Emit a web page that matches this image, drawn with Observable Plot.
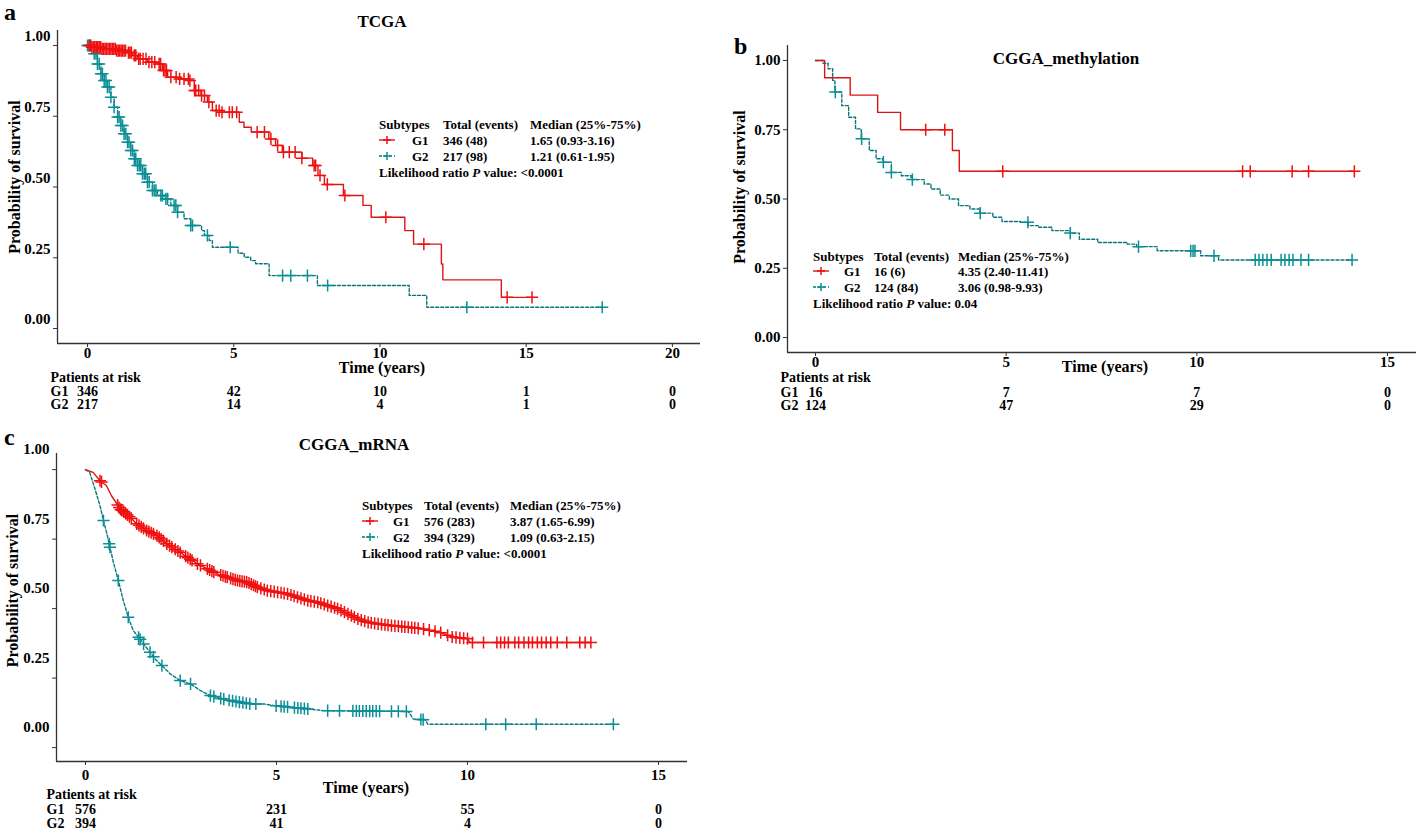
<!DOCTYPE html>
<html><head><meta charset="utf-8">
<script src="https://cdn.jsdelivr.net/npm/d3@7"></script>
<script src="https://cdn.jsdelivr.net/npm/@observablehq/plot@0.6"></script>
<style>
body{margin:0;background:#fff;}
#root{position:relative;width:1416px;height:829px;overflow:hidden;font-family:"Liberation Serif","Times New Roman",serif;font-weight:bold;color:#000;background:#fff;}
.panel{position:absolute;}
.t{position:absolute;white-space:nowrap;transform:translateY(-50%);font-size:13px;line-height:1;}
.sym{position:absolute;transform:translateY(-50%);}
</style></head><body><div id="root"></div>
<script>
// ---------------- DATA ----------------
const yTicks = [0, 0.25, 0.5, 0.75, 1];
const groups = ["G1", "G2"];

// Panel a: TCGA
const aG1Time = [0,0.15,0.5,1.0,1.35,1.55,1.7,2.05,2.4,2.56,2.74,3.1,3.48,3.65,3.88,4.1,4.27,4.6,5.19,5.35,5.6,6.2,6.43,6.66,7.33,7.7,7.88,8.1,8.75,9.42,9.7,10.85,11.15,12.1,12.15,14.15,15.2];
const aG1Surv = [1.0,0.994,0.988,0.982,0.975,0.965,0.953,0.941,0.935,0.912,0.888,0.882,0.876,0.841,0.823,0.80,0.77,0.764,0.729,0.711,0.694,0.67,0.647,0.623,0.602,0.576,0.541,0.509,0.47,0.435,0.393,0.346,0.298,0.228,0.172,0.11,0.11];
const aG1Cens = [0.05,0.1,0.15,0.2,0.25,0.3,0.35,0.4,0.45,0.5,0.55,0.6,0.65,0.7,0.75,0.8,0.85,0.9,0.95,1.0,1.05,1.1,1.15,1.2,1.25,1.3,1.4,1.45,1.5,1.6,1.65,1.75,1.8,1.9,2.0,2.1,2.2,2.3,2.45,2.5,2.6,2.65,2.7,2.85,3.03,3.15,3.3,3.45,3.5,3.66,3.7,3.8,3.9,4.0,4.15,4.4,4.5,4.6,4.85,4.95,5.1,5.8,6.05,6.27,6.5,6.7,6.9,7.1,7.33,7.75,7.8,7.95,8.2,8.8,10.2,11.5,14.35,15.2];
const aG2Time = [0,0.12,0.23,0.34,0.46,0.57,0.68,0.8,0.91,1.03,1.14,1.25,1.37,1.48,1.6,1.71,1.88,2.05,2.22,2.39,2.62,2.85,3.08,3.3,3.53,3.9,4.0,4.16,4.27,5.15,5.36,5.58,5.75,6.21,7.86,11.0,11.6,17.6];
const aG2Surv = [1.0,0.985,0.971,0.935,0.90,0.876,0.853,0.817,0.782,0.747,0.717,0.688,0.658,0.629,0.60,0.576,0.547,0.517,0.488,0.47,0.458,0.435,0.411,0.388,0.364,0.346,0.329,0.311,0.287,0.266,0.252,0.24,0.229,0.187,0.152,0.117,0.075,0.075];
const aG2Cens = [0.0,0.06,0.11,0.23,0.29,0.34,0.4,0.46,0.51,0.57,0.63,0.68,0.74,0.8,0.91,1.03,1.08,1.14,1.2,1.25,1.31,1.37,1.42,1.48,1.54,1.6,1.65,1.71,1.77,1.82,1.88,1.94,1.99,2.05,2.11,2.22,2.28,2.34,2.51,2.56,2.68,2.74,2.96,3.02,3.08,3.53,3.59,4.1,4.88,6.67,6.95,7.52,8.21,12.97,17.6];
const aRiskTimes = [0, 5, 10, 15, 20];
const aRiskG1 = [346, 42, 10, 1, 0];
const aRiskG2 = [217, 14, 4, 1, 0];
const aXTicks = [0, 5, 10, 15, 20];
const aTotals = ["346 (48)", "217 (98)"];
const aMedians = ["1.65 (0.93-3.16)", "1.21 (0.61-1.95)"];
const aP = "<0.0001";

// Panel b: CGGA_methylation
const bG1Time = [0,0.24,0.91,1.63,2.23,3.59,3.77,14.13];
const bG1Surv = [1.0,0.9375,0.875,0.8125,0.75,0.675,0.6,0.6];
const bG1Cens = [2.89,3.39,4.91,11.2,11.4,12.5,12.93,14.13];
const bG2Time = [0,0.2,0.33,0.45,0.51,0.69,0.87,1.05,1.2,1.41,1.59,1.77,1.99,2.25,2.51,2.85,3.03,3.27,3.51,3.75,4.05,4.31,4.65,4.89,5.37,5.58,5.84,6.2,6.68,6.92,7.4,8.18,8.42,8.96,10.1,10.57,14.08];
const bG2Surv = [1.0,0.99,0.97,0.928,0.886,0.837,0.795,0.753,0.717,0.675,0.645,0.633,0.596,0.584,0.57,0.554,0.536,0.514,0.5,0.476,0.464,0.449,0.434,0.419,0.416,0.404,0.398,0.386,0.377,0.355,0.343,0.337,0.328,0.313,0.295,0.28,0.28];
const bG2Cens = [0.52,1.21,1.78,1.99,2.54,4.32,5.57,6.68,8.47,9.84,9.9,9.95,10.45,11.53,11.63,11.73,11.84,11.95,12.21,12.31,12.42,12.52,12.73,12.93,14.07];
const bRiskTimes = [0, 5, 10, 15];
const bRiskG1 = [16, 7, 7, 0];
const bRiskG2 = [124, 47, 29, 0];
const bXTicks = [0, 5, 10, 15];
const bTotals = ["16 (6)", "124 (84)"];
const bMedians = ["4.35 (2.40-11.41)", "3.06 (0.98-9.93)"];
const bP = "0.04";

// Panel c: CGGA_mRNA
const cG1Time = [0,0.2,0.38,0.55,0.68,0.82,0.9,1.12,1.34,1.6,1.87,2.13,2.4,2.66,2.93,3.19,3.45,3.71,3.98,4.24,4.5,4.76,5.03,5.29,5.55,5.82,6.08,6.34,6.61,6.87,7.13,7.39,7.66,8.01,8.45,8.78,9.25,9.6,10.0,10.07,13.23];
const cG1Surv = [1.0,0.99,0.96,0.942,0.906,0.877,0.859,0.835,0.805,0.781,0.763,0.733,0.709,0.685,0.661,0.643,0.625,0.613,0.601,0.595,0.577,0.565,0.559,0.553,0.541,0.529,0.523,0.511,0.499,0.481,0.463,0.451,0.445,0.439,0.433,0.428,0.416,0.398,0.392,0.378,0.378];
const cG1Cens = [0.38,0.42,0.84,0.88,0.92,0.95,1.0,1.05,1.1,1.15,1.2,1.34,1.4,1.46,1.52,1.6,1.66,1.72,1.78,1.87,1.93,1.98,2.04,2.13,2.2,2.26,2.35,2.42,2.48,2.62,2.68,2.74,2.79,2.93,3.01,3.19,3.25,3.31,3.36,3.54,3.6,3.66,3.71,3.8,3.86,3.92,3.98,4.04,4.1,4.16,4.22,4.28,4.34,4.4,4.45,4.5,4.59,4.68,4.76,4.85,4.94,5.03,5.12,5.2,5.29,5.38,5.46,5.55,5.64,5.73,5.82,5.9,5.99,6.08,6.16,6.25,6.34,6.43,6.52,6.6,6.69,6.78,6.87,6.96,7.04,7.13,7.22,7.31,7.4,7.48,7.57,7.66,7.75,7.84,7.92,8.01,8.1,8.19,8.28,8.36,8.45,8.54,8.62,8.71,8.85,9.0,9.15,9.3,9.48,9.6,9.7,9.8,9.9,10.0,10.13,10.42,10.77,10.87,10.97,11.07,11.24,11.34,11.48,11.6,11.7,11.83,11.94,12.06,12.18,12.35,12.6,12.94,13.08,13.23];
const cG2Time = [0,0.11,0.25,0.38,0.47,0.55,0.62,0.73,0.86,0.99,1.12,1.25,1.39,1.52,1.69,1.82,2.0,2.22,2.48,2.75,3.01,3.27,3.54,3.8,4.06,4.32,4.67,4.94,5.38,5.82,6.25,8.45,8.58,8.9,8.96,13.82];
const cG2Surv = [1.0,0.99,0.93,0.87,0.817,0.775,0.733,0.667,0.601,0.529,0.469,0.421,0.397,0.373,0.343,0.319,0.295,0.265,0.241,0.229,0.205,0.187,0.177,0.169,0.163,0.157,0.157,0.151,0.145,0.139,0.133,0.13,0.103,0.1,0.084,0.084];
const cG2Cens = [0.47,0.62,0.64,0.86,1.12,1.39,1.43,1.52,1.69,1.78,2.0,2.48,2.75,3.27,3.36,3.54,3.62,3.76,3.85,3.94,4.03,4.12,4.21,4.3,4.46,4.99,5.12,5.2,5.29,5.47,5.56,5.64,5.73,5.82,6.34,6.65,7.0,7.09,7.17,7.26,7.35,7.44,7.52,7.61,7.7,8.01,8.19,8.4,8.78,8.84,10.48,11.0,11.8,13.82];
const cRiskTimes = [0, 5, 10, 15];
const cRiskG1 = [576, 231, 55, 0];
const cRiskG2 = [394, 41, 4, 0];
const cXTicks = [0, 5, 10, 15];
const cTotals = ["576 (283)", "394 (329)"];
const cMedians = ["3.87 (1.65-6.99)", "1.09 (0.63-2.15)"];
const cP = "<0.0001";

// ---------------- STYLE ----------------
const RED = "#f01010", RED_LINE = "#dd1414";
const TEAL = "#0b8f96", TEAL_LINE = "#0a767c";
const AXIS = "#333";
const FONT = '"Liberation Serif","Times New Roman",serif';

function survAt(times, surv, t, curve) {
  if (curve === "linear") {
    for (let i = 1; i < times.length; i++) {
      if (t <= times[i]) {
        const f = (t - times[i-1]) / (times[i] - times[i-1] || 1);
        return surv[i-1] + f * (surv[i] - surv[i-1]);
      }
    }
    return surv[surv.length - 1];
  }
  let v = surv[0];
  for (let i = 0; i < times.length; i++) if (times[i] <= t) v = surv[i];
  return v;
}

function series(times, surv, cens, curve, color, lineColor, dash) {
  const pts = times.map((t, i) => ({t, v: surv[i]}));
  const cp = cens.map(t => ({t, v: survAt(times, surv, t, curve)}));
  return [
    Plot.line(pts, {x: "t", y: "v", curve: curve === "linear" ? "linear" : "step-after", stroke: lineColor, strokeWidth: 1.4, strokeDasharray: dash}),
    Plot.dot(cp, {x: "t", y: "v", symbol: "plus", r: 4, stroke: color, strokeWidth: 1.5})
  ];
}

function makePanel(p) {
  const marks = [
    Plot.ruleX([p.xDomain[0]], {stroke: AXIS, strokeWidth: 1.3}),
    Plot.ruleY([p.yDomain[0]], {stroke: AXIS, strokeWidth: 1.3}),
    Plot.axisY({ticks: yTicks, tickSize: 4, tickFormat: () => "", stroke: AXIS}),
    Plot.text(yTicks, {y: d => d, text: d => d.toFixed(2), frameAnchor: "left", textAnchor: "end", dx: -7, dy: p.labelDy, fontSize: 15}),
    Plot.axisX({ticks: p.xTicks, tickSize: 4, tickPadding: p.xPad, stroke: AXIS, tickFormat: d => String(d), fontSize: 15, label: null}),
    ...series(p.g2[0], p.g2[1], p.g2[2], p.curve, TEAL, TEAL_LINE, "3,2"),
    ...series(p.g1[0], p.g1[1], p.g1[2], p.curve, RED, RED_LINE, null),
    Plot.text([p.title], {text: d => d, frameAnchor: "top", dx: p.titleDx, dy: p.titleDy, fontSize: 17}),
    Plot.text(["Probability of survival"], {text: d => d, frameAnchor: "left", textAnchor: "middle", rotate: -90, dx: p.ylabDx, dy: p.ylabDy, fontSize: 16}),
    Plot.text(["Time (years)"], {text: d => d, frameAnchor: "bottom", dx: p.timeDx, dy: p.timeDy, fontSize: 16}),
    Plot.text(["Patients at risk"], {text: d => d, frameAnchor: "bottom-left", textAnchor: "start", dx: p.riskDx, dy: p.riskDy[0], fontSize: 14}),
    Plot.text([groups[0]], {text: d => d, frameAnchor: "bottom-left", textAnchor: "start", dx: p.riskDx, dy: p.riskDy[1], fontSize: 14}),
    Plot.text([groups[1]], {text: d => d, frameAnchor: "bottom-left", textAnchor: "start", dx: p.riskDx, dy: p.riskDy[2], fontSize: 14}),
    Plot.text(p.riskTimes.map((t, i) => ({t, n: p.risk1[i]})), {x: "t", text: d => String(d.n), frameAnchor: "bottom", dy: p.riskDy[1], fontSize: 14}),
    Plot.text(p.riskTimes.map((t, i) => ({t, n: p.risk2[i]})), {x: "t", text: d => String(d.n), frameAnchor: "bottom", dy: p.riskDy[2], fontSize: 14})
  ];
  return Plot.plot({
    width: p.width, height: p.height,
    marginLeft: p.ml, marginRight: p.mr, marginTop: p.mt, marginBottom: p.mb,
    x: {domain: p.xDomain, label: null},
    y: {domain: p.yDomain, label: null},
    style: {fontFamily: FONT, fontWeight: "bold", fontSize: "15px", background: "transparent", overflow: "visible", color: "#000"},
    marks
  });
}

const root = document.getElementById("root");
function addPanel(svg, left, top) {
  const d = document.createElement("div");
  d.className = "panel"; d.style.left = left + "px"; d.style.top = top + "px";
  d.appendChild(svg); root.appendChild(d);
}
function addText(x, y, html, size) {
  const s = document.createElement("div");
  s.className = "t"; s.style.left = x + "px"; s.style.top = y + "px";
  if (size) s.style.fontSize = size + "px";
  s.innerHTML = html; root.appendChild(s);
}
function addSym(x, y, color, lineColor, dash) {
  const ns = "http://www.w3.org/2000/svg";
  const svg = document.createElementNS(ns, "svg");
  svg.setAttribute("width", 16); svg.setAttribute("height", 12);
  svg.setAttribute("class", "sym");
  svg.style.left = x + "px"; svg.style.top = y + "px";
  const l = document.createElementNS(ns, "line");
  l.setAttribute("x1", 0); l.setAttribute("x2", 16); l.setAttribute("y1", 6); l.setAttribute("y2", 6);
  l.setAttribute("stroke", lineColor); l.setAttribute("stroke-width", 1.4);
  if (dash) l.setAttribute("stroke-dasharray", dash);
  const p = document.createElementNS(ns, "path");
  p.setAttribute("d", "M4,6H12M8,2V10");
  p.setAttribute("stroke", color); p.setAttribute("stroke-width", 1.5); p.setAttribute("fill", "none");
  svg.appendChild(l); svg.appendChild(p); root.appendChild(svg);
}
function addLegend(L, totals, medians, pval) {
  addText(L.x0, L.ys[0], "Subtypes");
  addText(L.xTot, L.ys[0], "Total (events)");
  addText(L.xMed, L.ys[0], "Median (25%-75%)");
  addSym(L.x0, L.ys[1], RED, RED_LINE, null);
  addSym(L.x0, L.ys[2], TEAL, TEAL_LINE, "3,2");
  for (let i = 0; i < 2; i++) {
    addText(L.xG, L.ys[i+1], groups[i]);
    addText(L.xTot, L.ys[i+1], totals[i]);
    addText(L.xMed, L.ys[i+1], medians[i]);
  }
  addText(L.x0, L.ys[3], "Likelihood ratio <i>P</i> value: " + pval.replace("<", "&lt;"));
}

// Panel a
addPanel(makePanel({
  width: 705, height: 415, ml: 57, mr: 5, mt: 30, mb: 72,
  xDomain: [-1.026, 20.96], yDomain: [-0.053, 1.053], xTicks: aXTicks, xPad: 0, labelDy: -9,
  g1: [aG1Time, aG1Surv, aG1Cens], g2: [aG2Time, aG2Surv, aG2Cens], curve: "step",
  title: "TCGA", titleDx: 3, titleDy: -16, ylabDx: -43, ylabDy: -10,
  timeDx: 3, timeDy: 29, riskDx: -7, riskDy: [38, 52, 65],
  riskTimes: aRiskTimes, risk1: aRiskG1, risk2: aRiskG2
}), 0, 0);
// Panel b
addPanel(makePanel({
  width: 716, height: 415, ml: 87, mr: 0, mt: 45, mb: 63,
  xDomain: [-0.734, 15.76], yDomain: [-0.054, 1.054], xTicks: bXTicks, xPad: 0, labelDy: 0,
  g1: [bG1Time, bG1Surv, bG1Cens], g2: [bG2Time, bG2Surv, bG2Cens], curve: "step",
  title: "CGGA_methylation", titleDx: -36, titleDy: 6, ylabDx: -48, ylabDy: -12,
  timeDx: 3, timeDy: 19, riskDx: -7, riskDy: [29, 44, 57],
  riskTimes: bRiskTimes, risk1: bRiskG1, risk2: bRiskG2
}), 700, 0);
// Panel c
addPanel(makePanel({
  width: 705, height: 409, ml: 56, mr: 18, mt: 33, mb: 68,
  xDomain: [-0.759, 15.76], yDomain: [-0.05, 1.058], xTicks: cXTicks, xPad: 4, labelDy: -20,
  g1: [cG1Time, cG1Surv, cG1Cens], g2: [cG2Time, cG2Surv, cG2Cens], curve: "linear",
  title: "CGGA_mRNA", titleDx: -18, titleDy: -16, ylabDx: -44, ylabDy: -17,
  timeDx: -6, timeDy: 31, riskDx: -10, riskDy: [37, 52, 66],
  riskTimes: cRiskTimes, risk1: cRiskG1, risk2: cRiskG2
}), 0, 420);

// Legends
addLegend({x0: 379, xG: 412, xTot: 443, xMed: 530, ys: [124, 140, 156, 172]}, aTotals, aMedians, aP);
addLegend({x0: 813, xG: 844, xTot: 874, xMed: 958, ys: [256, 271, 287, 303]}, bTotals, bMedians, bP);
addLegend({x0: 362, xG: 393, xTot: 424, xMed: 510, ys: [505, 521, 537, 553]}, cTotals, cMedians, cP);

// Panel letters
addText(4, 12, "a", 24);
addText(734, 46, "b", 24);
addText(4, 437, "c", 24);
</script></body></html>
